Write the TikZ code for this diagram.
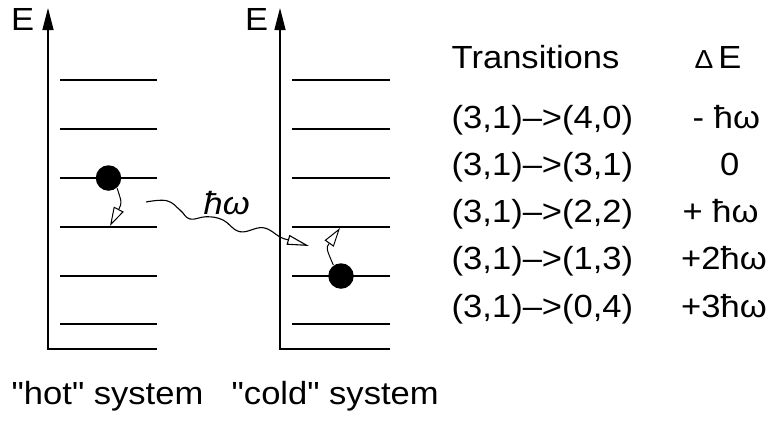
\documentclass[tikz,border=0pt]{standalone}
\usepackage{fontspec}
\setmainfont{Liberation Sans}[FakeStretch=1.08, Ligatures=TeXOff]
\usetikzlibrary{arrows.meta}
\begin{document}
\begin{tikzpicture}[x=1pt,y=-1pt, line width=1.4pt,
  txt/.style={inner sep=0pt, anchor=base west, font=\fontsize{32}{38}\selectfont},
  ball/.style={circle, fill=black, draw=none, inner sep=0pt, minimum size=25.5pt},
  hop/.style={line width=1pt, -{Triangle[open, length=19pt, width=11pt, fill=white]}},
  wave/.style={line width=1.1pt, -{Triangle[open, length=22pt, width=10pt, fill=white]}},
  axisarrow/.style={-{Triangle[length=22pt,width=11pt]}}]
\useasboundingbox (0,0) rectangle (770,421);
% axes
\coordinate (lb) at (157,349); \coordinate (lo) at (48,349); \coordinate (lt) at (48,8);
\coordinate (rb) at (390,349); \coordinate (ro) at (280,349); \coordinate (rt) at (280,8);
\draw[axisarrow] (lb) -- (lo) -- (lt);
\draw[axisarrow] (rb) -- (ro) -- (rt);
% levels
\foreach \y in {80,129,178,227,276,324} {
  \draw (60,\y) -- (157,\y);
  \draw (292,\y) -- (390,\y);
}
% balls
\node[ball] (hotball) at (108.5,178) {};
\node[ball] (coldball) at (341,276) {};
\coordinate (hotend) at (110,226);
\coordinate (coldend) at (340,228);
\draw[hop] (hotball.-50) .. controls (122,203) .. (hotend);
\draw[hop] (coldball.125) .. controls (326,248) .. (coldend);
% photon
\coordinate (w0) at (146,202);
\coordinate (w1) at (309,246);
\draw[wave] plot[smooth, tension=0.7] coordinates {(w0) (166.7,200.7) (180,210) (190,219) (206.7,216.7) (223,220) (240,231.7) (263,227.7) (280,237) (287,239.5)} -- (w1);
% labels
\node[txt] (El) at (10.5,30.5) {E};
\node[txt] (Er) at (244.5,30.5) {E};
\node[txt] (hw) at (203,214) {\itshape ħω};
\node[txt] (tr) at (451,68) {Transitions};
\node[txt] (de) at (694,68) {{\fontsize{26}{26}\selectfont Δ}\hspace{5pt}E};
\node[txt] (r1) at (451,128) {(3,1)–>(4,0)};
\node[txt] (r2) at (451,175.3) {(3,1)–>(3,1)};
\node[txt] (r3) at (451,222.6) {(3,1)–>(2,2)};
\node[txt] (r4) at (451,269.9) {(3,1)–>(1,3)};
\node[txt] (r5) at (451,317.2) {(3,1)–>(0,4)};
\node[txt] (d1) at (692,128) {- ħω};
\node[txt] (d2) at (719.5,175.3) {0};
\node[txt] (d3) at (682,222.6) {+ ħω};
\node[txt] (d4) at (680.5,269.9) {+2ħω};
\node[txt] (d5) at (680.5,317.2) {+3ħω};
\node[txt] (hot) at (11,404) {"hot" system};
\node[txt] (cold) at (231,404) {"cold" system};
\end{tikzpicture}
\end{document}
